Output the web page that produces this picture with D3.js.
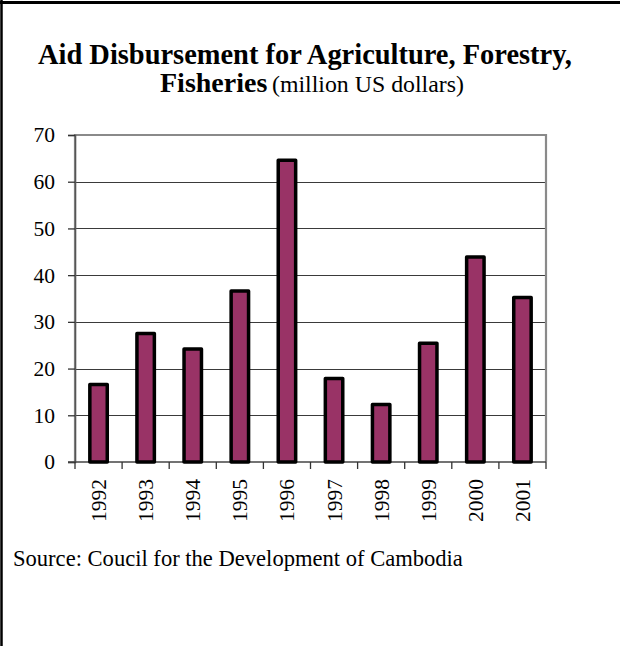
<!DOCTYPE html>
<html>
<head>
<meta charset="utf-8">
<script src="https://cdn.jsdelivr.net/npm/d3@7"></script>
<style>
  html, body { margin: 0; padding: 0; background: #fff; }
  svg { display: block; }
  text { font-family: "Liberation Serif", "Times New Roman", serif; fill: #000; }
</style>
</head>
<body>
<svg id="chart" width="620" height="646"></svg>
<script>
// ---- data ----
const years = ["1992","1993","1994","1995","1996","1997","1998","1999","2000","2001"];
const disbursement = [16.6, 27.5, 24.2, 36.6, 64.6, 17.9, 12.3, 25.4, 43.9, 35.2];
const yTicks = [0, 10, 20, 30, 40, 50, 60, 70];
const titleLine1 = "Aid Disbursement for Agriculture, Forestry,";
const titleLine2a = "Fisheries";
const titleLine2b = "(million US dollars)";
const sourceText = "Source: Coucil for the Development of Cambodia";

// ---- layout ----
const svg = d3.select("#chart");
const plot = { left: 75, right: 546, top: 135, bottom: 462 };

const x = d3.scaleBand().domain(years).range([plot.left, plot.right]).paddingInner(0.63).paddingOuter(0.315);
const xEdges = d3.scaleBand().domain(years).range([plot.left, plot.right]).padding(0);
const y = d3.scaleLinear().domain([0, 70]).range([plot.bottom, plot.top]);

// page frame (top and left rules)
svg.append("line").attr("x1", 0).attr("x2", 620).attr("y1", 2.5).attr("y2", 2.5)
  .attr("stroke", "#000").attr("stroke-width", 3);
svg.append("line").attr("x1", 1.5).attr("x2", 1.5).attr("y1", 0).attr("y2", 646)
  .attr("stroke", "#000").attr("stroke-width", 2.5);

// gridlines
svg.append("g").selectAll("line").data(yTicks.filter(d => d > 0 && d < 70)).join("line")
  .attr("x1", plot.left).attr("x2", plot.right)
  .attr("y1", d => Math.round(y(d)) + 0.5).attr("y2", d => Math.round(y(d)) + 0.5)
  .attr("stroke", "#3a3a3a").attr("stroke-width", 1.2);

// plot frame (gray)
svg.append("path")
  .attr("d", `M${plot.left},${plot.bottom} V${plot.top} H${plot.right} V${plot.bottom}`)
  .attr("fill", "none").attr("stroke", "#8a8a8a").attr("stroke-width", 2.2);

// y axis
const yAxis = d3.axisLeft(y).tickValues(yTicks).tickSize(7).tickPadding(13).tickFormat(d3.format("d"));
const gy = svg.append("g").attr("transform", `translate(${plot.left},0)`).call(yAxis);
gy.select(".domain").attr("stroke", "#555").attr("stroke-width", 1.5);
gy.selectAll(".tick line").attr("stroke", "#333").attr("stroke-width", 1.3);
gy.selectAll(".tick text").attr("font-size", 21.5).attr("font-family", "Liberation Serif, Times New Roman, serif").attr("fill", "#000");

// x axis baseline and ticks at category edges
svg.append("line").attr("x1", plot.left - 7).attr("x2", plot.right)
  .attr("y1", plot.bottom).attr("y2", plot.bottom).attr("stroke", "#444").attr("stroke-width", 1.6);
const edges = years.map(d => xEdges(d)).concat([plot.right]);
svg.append("g").selectAll("line").data(edges).join("line")
  .attr("x1", d => d).attr("x2", d => d)
  .attr("y1", plot.bottom).attr("y2", plot.bottom + 7)
  .attr("stroke", "#333").attr("stroke-width", 1.3);

// bars
svg.append("g").selectAll("rect").data(years).join("rect")
  .attr("x", d => x(d))
  .attr("width", x.bandwidth())
  .attr("y", (d, i) => y(disbursement[i]))
  .attr("height", (d, i) => y(0) - y(disbursement[i]))
  .attr("fill", "#993366")
  .attr("stroke", "#000").attr("stroke-width", 3.5).attr("stroke-linejoin", "round");

// x labels (rotated)
svg.append("g").selectAll("text").data(years).join("text")
  .attr("transform", d => `translate(${xEdges(d) + xEdges.bandwidth() / 2},479) rotate(-90)`)
  .attr("text-anchor", "end").attr("dy", "0.35em")
  .attr("font-size", 21.5)
  .text(d => d);

// titles
function fitText(sel, width) {
  const fs = parseFloat(sel.attr("font-size"));
  const w = sel.node().getComputedTextLength();
  sel.attr("font-size", (fs * width / w).toFixed(2));
}
const t1 = svg.append("text").attr("x", 38).attr("y", 64).attr("font-size", 28)
  .attr("font-weight", "bold").text(titleLine1);
fitText(t1, 534);
const t2 = svg.append("text").attr("x", 160).attr("y", 92).attr("font-size", 28)
  .attr("font-weight", "bold").text(titleLine2a);
const t3 = svg.append("text").attr("x", 272).attr("y", 92).attr("font-size", 24)
  .text(titleLine2b);
fitText(t3, 192);

// source
const src = svg.append("text").attr("x", 13).attr("y", 566).attr("font-size", 22)
  .text(sourceText);
fitText(src, 450);
</script>
</body>
</html>
